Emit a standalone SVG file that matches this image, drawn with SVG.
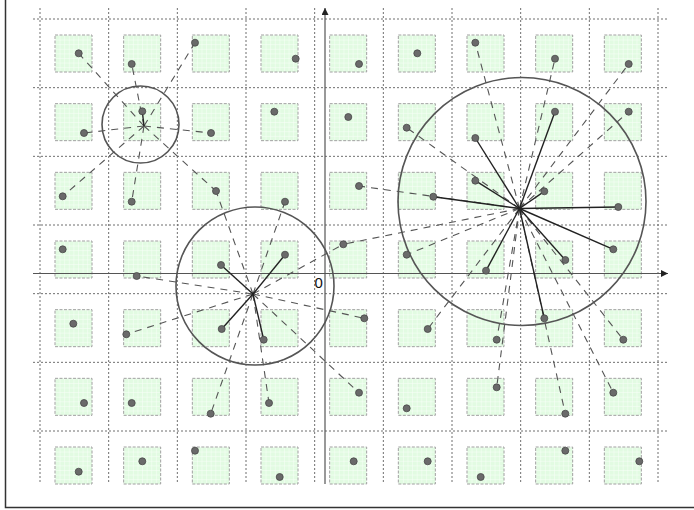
<svg xmlns="http://www.w3.org/2000/svg" xmlns:xlink="http://www.w3.org/1999/xlink" width="694" height="510" viewBox="0 0 694 510">
<style>
.grid{stroke:#6f6f6f;stroke-width:1;stroke-dasharray:2,2;fill:none}
.sq{fill:url(#gp);stroke:#a0a0a0;stroke-width:1;stroke-dasharray:3,1.5}
.axis{stroke:#555;stroke-width:1.2;fill:none}
.ring{stroke:#555;stroke-width:1.6;fill:none}
.dash{stroke:#555;stroke-width:1.1;stroke-dasharray:7,6;fill:none}
.solid{stroke:#222;stroke-width:1.4;fill:none}
.dot{fill:#6a6a6a;stroke:#484848;stroke-width:0.8}
.lbl{font-family:"Liberation Sans",Arial,sans-serif;font-size:15px;fill:#111}
</style>
<defs>
<pattern id="gp" width="4.6" height="4.6" patternUnits="userSpaceOnUse">
<rect width="4.6" height="4.6" fill="#e2fbe2"/>
<path d="M0 0.3H4.6M0.3 0V4.6" stroke="#ffffff" stroke-width="0.6" opacity="0.8"/>
</pattern>
<rect id="sq" class="sq" width="37" height="37"/>
<marker id="arr" viewBox="0 0 10 10" refX="10" refY="5" markerWidth="7" markerHeight="7" orient="auto" markerUnits="userSpaceOnUse">
<path d="M0 0L10 5L0 10z" fill="#222"/>
</marker>
</defs>
<rect x="5.5" y="-5" width="700" height="512.5" fill="#fff" stroke="#333" stroke-width="1.5"/>
<g id="gridlines">
<path class="grid" d="M40 8V484M108.67 8V484M177.33 8V484M246 8V484M314.67 8V484M383.33 8V484M452 8V484M520.67 8V484M589.33 8V484M658 8V484"/>
<path class="grid" d="M33 19H668M33 87.67H668M33 156.33H668M33 225H668M33 293.67H668M33 362.33H668M33 431H668"/>
</g>
<g id="cells">
<use xlink:href="#sq" x="55" y="35"/><use xlink:href="#sq" x="123.67" y="35"/><use xlink:href="#sq" x="192.33" y="35"/><use xlink:href="#sq" x="261" y="35"/><use xlink:href="#sq" x="329.67" y="35"/><use xlink:href="#sq" x="398.33" y="35"/><use xlink:href="#sq" x="467" y="35"/><use xlink:href="#sq" x="535.67" y="35"/><use xlink:href="#sq" x="604.33" y="35"/>
<use xlink:href="#sq" x="55" y="103.67"/><use xlink:href="#sq" x="123.67" y="103.67"/><use xlink:href="#sq" x="192.33" y="103.67"/><use xlink:href="#sq" x="261" y="103.67"/><use xlink:href="#sq" x="329.67" y="103.67"/><use xlink:href="#sq" x="398.33" y="103.67"/><use xlink:href="#sq" x="467" y="103.67"/><use xlink:href="#sq" x="535.67" y="103.67"/><use xlink:href="#sq" x="604.33" y="103.67"/>
<use xlink:href="#sq" x="55" y="172.33"/><use xlink:href="#sq" x="123.67" y="172.33"/><use xlink:href="#sq" x="192.33" y="172.33"/><use xlink:href="#sq" x="261" y="172.33"/><use xlink:href="#sq" x="329.67" y="172.33"/><use xlink:href="#sq" x="398.33" y="172.33"/><use xlink:href="#sq" x="467" y="172.33"/><use xlink:href="#sq" x="535.67" y="172.33"/><use xlink:href="#sq" x="604.33" y="172.33"/>
<use xlink:href="#sq" x="55" y="241"/><use xlink:href="#sq" x="123.67" y="241"/><use xlink:href="#sq" x="192.33" y="241"/><use xlink:href="#sq" x="261" y="241"/><use xlink:href="#sq" x="329.67" y="241"/><use xlink:href="#sq" x="398.33" y="241"/><use xlink:href="#sq" x="467" y="241"/><use xlink:href="#sq" x="535.67" y="241"/><use xlink:href="#sq" x="604.33" y="241"/>
<use xlink:href="#sq" x="55" y="309.67"/><use xlink:href="#sq" x="123.67" y="309.67"/><use xlink:href="#sq" x="192.33" y="309.67"/><use xlink:href="#sq" x="261" y="309.67"/><use xlink:href="#sq" x="329.67" y="309.67"/><use xlink:href="#sq" x="398.33" y="309.67"/><use xlink:href="#sq" x="467" y="309.67"/><use xlink:href="#sq" x="535.67" y="309.67"/><use xlink:href="#sq" x="604.33" y="309.67"/>
<use xlink:href="#sq" x="55" y="378.33"/><use xlink:href="#sq" x="123.67" y="378.33"/><use xlink:href="#sq" x="192.33" y="378.33"/><use xlink:href="#sq" x="261" y="378.33"/><use xlink:href="#sq" x="329.67" y="378.33"/><use xlink:href="#sq" x="398.33" y="378.33"/><use xlink:href="#sq" x="467" y="378.33"/><use xlink:href="#sq" x="535.67" y="378.33"/><use xlink:href="#sq" x="604.33" y="378.33"/>
<use xlink:href="#sq" x="55" y="447"/><use xlink:href="#sq" x="123.67" y="447"/><use xlink:href="#sq" x="192.33" y="447"/><use xlink:href="#sq" x="261" y="447"/><use xlink:href="#sq" x="329.67" y="447"/><use xlink:href="#sq" x="398.33" y="447"/><use xlink:href="#sq" x="467" y="447"/><use xlink:href="#sq" x="535.67" y="447"/><use xlink:href="#sq" x="604.33" y="447"/>
</g>
<g id="axes">
<line class="axis" x1="33" y1="273.5" x2="668" y2="273.5" marker-end="url(#arr)"/>
<line class="axis" x1="325" y1="484" x2="325" y2="8" marker-end="url(#arr)"/>
<text class="lbl" x="314.5" y="287.5">0</text>
</g>
<g id="circles">
<circle id="circle1" class="ring" cx="140.5" cy="124.5" r="38.5"/>
<circle id="circle2" class="ring" cx="255" cy="286" r="79"/>
<circle id="circle3" class="ring" cx="522" cy="201.5" r="124"/>
</g>
<g id="connectors">
<g id="dashed-c1">
<line class="dash" x1="144" y1="126" x2="78.7" y2="53.3"/>
<line class="dash" x1="144" y1="126" x2="131.7" y2="64"/>
<line class="dash" x1="144" y1="126" x2="195" y2="42.7"/>
<line class="dash" x1="144" y1="126" x2="84" y2="133"/>
<line class="dash" x1="144" y1="126" x2="211" y2="133"/>
<line class="dash" x1="144" y1="126" x2="62.7" y2="196.3"/>
<line class="dash" x1="144" y1="126" x2="131.7" y2="201.7"/>
<line class="dash" x1="144" y1="126" x2="216" y2="191"/>
</g>
<g id="dashed-c2">
<line class="dash" x1="253" y1="294" x2="216" y2="191"/>
<line class="dash" x1="253" y1="294" x2="285" y2="201.7"/>
<line class="dash" x1="253" y1="294" x2="136.7" y2="276"/>
<line class="dash" x1="253" y1="294" x2="343.3" y2="244.3"/>
<line class="dash" x1="253" y1="294" x2="126.3" y2="334.3"/>
<line class="dash" x1="253" y1="294" x2="364.3" y2="318.3"/>
<line class="dash" x1="253" y1="294" x2="210.7" y2="413.7"/>
<line class="dash" x1="253" y1="294" x2="269" y2="403"/>
<line class="dash" x1="253" y1="294" x2="359" y2="392.7"/>
</g>
<g id="dashed-c3">
<line class="dash" x1="519.5" y1="208.5" x2="475.3" y2="42.7"/>
<line class="dash" x1="519.5" y1="208.5" x2="555" y2="58.7"/>
<line class="dash" x1="519.5" y1="208.5" x2="628.7" y2="64"/>
<line class="dash" x1="519.5" y1="208.5" x2="406.7" y2="127.7"/>
<line class="dash" x1="519.5" y1="208.5" x2="628.7" y2="111.7"/>
<line class="dash" x1="519.5" y1="208.5" x2="359" y2="186"/>
<line class="dash" x1="519.5" y1="208.5" x2="343.3" y2="244.3"/>
<line class="dash" x1="519.5" y1="208.5" x2="406.7" y2="254.7"/>
<line class="dash" x1="519.5" y1="208.5" x2="427.7" y2="329"/>
<line class="dash" x1="519.5" y1="208.5" x2="496.7" y2="339.7"/>
<line class="dash" x1="519.5" y1="208.5" x2="623.3" y2="339.7"/>
<line class="dash" x1="519.5" y1="208.5" x2="496.7" y2="387.3"/>
<line class="dash" x1="519.5" y1="208.5" x2="565.3" y2="413.7"/>
<line class="dash" x1="519.5" y1="208.5" x2="613.3" y2="392.7"/>
</g>
<g id="solid-c1">
<line class="solid" x1="144" y1="126" x2="142.3" y2="111.3"/>
</g>
<g id="solid-c2">
<line class="solid" x1="253" y1="294" x2="221" y2="265"/>
<line class="solid" x1="253" y1="294" x2="285" y2="254.7"/>
<line class="solid" x1="253" y1="294" x2="221.7" y2="329"/>
<line class="solid" x1="253" y1="294" x2="263.7" y2="339.7"/>
</g>
<g id="solid-c3">
<line class="solid" x1="519.5" y1="208.5" x2="475.3" y2="138"/>
<line class="solid" x1="519.5" y1="208.5" x2="555" y2="111.7"/>
<line class="solid" x1="519.5" y1="208.5" x2="433.3" y2="196.7"/>
<line class="solid" x1="519.5" y1="208.5" x2="475.3" y2="180.7"/>
<line class="solid" x1="519.5" y1="208.5" x2="544.3" y2="191.3" stroke="#777"/>
<line class="solid" x1="519.5" y1="208.5" x2="618.3" y2="207"/>
<line class="solid" x1="519.5" y1="208.5" x2="486" y2="270.7"/>
<line class="solid" x1="519.5" y1="208.5" x2="565.3" y2="260"/>
<line class="solid" x1="519.5" y1="208.5" x2="613.3" y2="249.3"/>
<line class="solid" x1="519.5" y1="208.5" x2="544.3" y2="318.3"/>
</g>
</g>
<g id="points">
<g id="p-0-0"><circle class="dot" cx="78.7" cy="53.3" r="3.5"/></g>
<g id="p-0-1"><circle class="dot" cx="131.7" cy="64" r="3.5"/></g>
<g id="p-0-2"><circle class="dot" cx="195" cy="42.7" r="3.5"/></g>
<g id="p-0-3"><circle class="dot" cx="295.7" cy="58.7" r="3.5"/></g>
<g id="p-0-4"><circle class="dot" cx="359" cy="64" r="3.5"/></g>
<g id="p-0-5"><circle class="dot" cx="417.3" cy="53.3" r="3.5"/></g>
<g id="p-0-6"><circle class="dot" cx="475.3" cy="42.7" r="3.5"/></g>
<g id="p-0-7"><circle class="dot" cx="555" cy="58.7" r="3.5"/></g>
<g id="p-0-8"><circle class="dot" cx="628.7" cy="64" r="3.5"/></g>
<g id="p-1-0"><circle class="dot" cx="84" cy="133" r="3.5"/></g>
<g id="p-1-1"><circle class="dot" cx="142.3" cy="111.3" r="3.5"/></g>
<g id="p-1-2"><circle class="dot" cx="211" cy="133" r="3.5"/></g>
<g id="p-1-3"><circle class="dot" cx="274.3" cy="111.7" r="3.5"/></g>
<g id="p-1-4"><circle class="dot" cx="348.3" cy="117" r="3.5"/></g>
<g id="p-1-5"><circle class="dot" cx="406.7" cy="127.7" r="3.5"/></g>
<g id="p-1-6"><circle class="dot" cx="475.3" cy="138" r="3.5"/></g>
<g id="p-1-7"><circle class="dot" cx="555" cy="111.7" r="3.5"/></g>
<g id="p-1-8"><circle class="dot" cx="628.7" cy="111.7" r="3.5"/></g>
<g id="p-2-0"><circle class="dot" cx="62.7" cy="196.3" r="3.5"/></g>
<g id="p-2-1"><circle class="dot" cx="131.7" cy="201.7" r="3.5"/></g>
<g id="p-2-2"><circle class="dot" cx="216" cy="191" r="3.5"/></g>
<g id="p-2-3"><circle class="dot" cx="285" cy="201.7" r="3.5"/></g>
<g id="p-2-4"><circle class="dot" cx="359" cy="186" r="3.5"/></g>
<g id="p-2-5"><circle class="dot" cx="433.3" cy="196.7" r="3.5"/></g>
<g id="p-2-6"><circle class="dot" cx="475.3" cy="180.7" r="3.5"/></g>
<g id="p-2-7"><circle class="dot" cx="544.3" cy="191.3" r="3.5"/></g>
<g id="p-2-8"><circle class="dot" cx="618.3" cy="207" r="3.5"/></g>
<g id="p-3-0"><circle class="dot" cx="62.7" cy="249.3" r="3.5"/></g>
<g id="p-3-1"><circle class="dot" cx="136.7" cy="276" r="3.5"/></g>
<g id="p-3-2"><circle class="dot" cx="221" cy="265" r="3.5"/></g>
<g id="p-3-3"><circle class="dot" cx="285" cy="254.7" r="3.5"/></g>
<g id="p-3-4"><circle class="dot" cx="343.3" cy="244.3" r="3.5"/></g>
<g id="p-3-5"><circle class="dot" cx="406.7" cy="254.7" r="3.5"/></g>
<g id="p-3-6"><circle class="dot" cx="486" cy="270.7" r="3.5"/></g>
<g id="p-3-7"><circle class="dot" cx="565.3" cy="260" r="3.5"/></g>
<g id="p-3-8"><circle class="dot" cx="613.3" cy="249.3" r="3.5"/></g>
<g id="p-4-0"><circle class="dot" cx="73.3" cy="323.7" r="3.5"/></g>
<g id="p-4-1"><circle class="dot" cx="126.3" cy="334.3" r="3.5"/></g>
<g id="p-4-2"><circle class="dot" cx="221.7" cy="329" r="3.5"/></g>
<g id="p-4-3"><circle class="dot" cx="263.7" cy="339.7" r="3.5"/></g>
<g id="p-4-4"><circle class="dot" cx="364.3" cy="318.3" r="3.5"/></g>
<g id="p-4-5"><circle class="dot" cx="427.7" cy="329" r="3.5"/></g>
<g id="p-4-6"><circle class="dot" cx="496.7" cy="339.7" r="3.5"/></g>
<g id="p-4-7"><circle class="dot" cx="544.3" cy="318.3" r="3.5"/></g>
<g id="p-4-8"><circle class="dot" cx="623.3" cy="339.7" r="3.5"/></g>
<g id="p-5-0"><circle class="dot" cx="84" cy="403" r="3.5"/></g>
<g id="p-5-1"><circle class="dot" cx="131.7" cy="403" r="3.5"/></g>
<g id="p-5-2"><circle class="dot" cx="210.7" cy="413.7" r="3.5"/></g>
<g id="p-5-3"><circle class="dot" cx="269" cy="403" r="3.5"/></g>
<g id="p-5-4"><circle class="dot" cx="359" cy="392.7" r="3.5"/></g>
<g id="p-5-5"><circle class="dot" cx="406.7" cy="408.3" r="3.5"/></g>
<g id="p-5-6"><circle class="dot" cx="496.7" cy="387.3" r="3.5"/></g>
<g id="p-5-7"><circle class="dot" cx="565.3" cy="413.7" r="3.5"/></g>
<g id="p-5-8"><circle class="dot" cx="613.3" cy="392.7" r="3.5"/></g>
<g id="p-6-0"><circle class="dot" cx="78.7" cy="471.7" r="3.5"/></g>
<g id="p-6-1"><circle class="dot" cx="142.3" cy="461.3" r="3.5"/></g>
<g id="p-6-2"><circle class="dot" cx="195" cy="450.7" r="3.5"/></g>
<g id="p-6-3"><circle class="dot" cx="279.7" cy="477" r="3.5"/></g>
<g id="p-6-4"><circle class="dot" cx="353.7" cy="461.3" r="3.5"/></g>
<g id="p-6-5"><circle class="dot" cx="427.7" cy="461.3" r="3.5"/></g>
<g id="p-6-6"><circle class="dot" cx="480.7" cy="477" r="3.5"/></g>
<g id="p-6-7"><circle class="dot" cx="565.3" cy="450.7" r="3.5"/></g>
<g id="p-6-8"><circle class="dot" cx="639.3" cy="461.3" r="3.5"/></g>
</g>
</svg>
